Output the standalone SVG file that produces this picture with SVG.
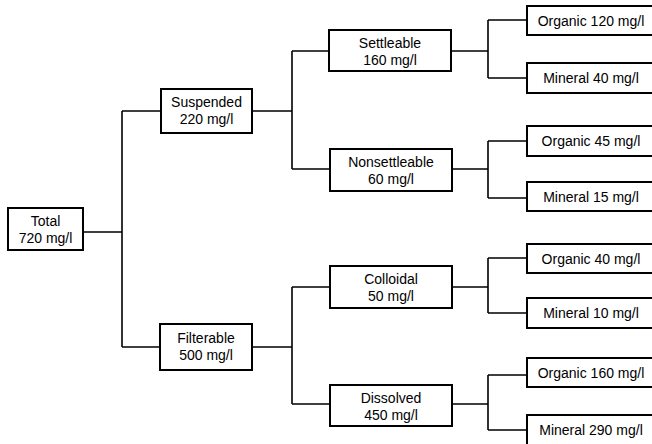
<svg xmlns="http://www.w3.org/2000/svg" width="652" height="444" viewBox="0 0 652 444">
<style>
.box{fill:#fff;stroke:#000;stroke-width:2}
.ln{fill:none;stroke:#000;stroke-width:1.6}
text{font-family:"Liberation Sans",Arial,sans-serif;font-size:14px;fill:#000;text-anchor:middle}
</style>
<rect width="652" height="444" fill="#fff"/>
<g id="connectors">
<path class="ln" d="M83 232H122M122 111V347M122 111H161M122 347H160"/>
<path class="ln" d="M252 111H292M292 51V169M292 51H329M292 169H330"/>
<path class="ln" d="M252 347H292M292 287V404M292 287H330M292 404H330"/>
<path class="ln" d="M451 51H488M488 20V78M488 20H527M488 78H527"/>
<path class="ln" d="M452 169H488M488 141V198M488 141H527M488 198H527"/>
<path class="ln" d="M452 287H488M488 258V313M488 258H527M488 313H527"/>
<path class="ln" d="M452 404H488M488 375V430M488 375H527M488 430H527"/>
</g>
<g id="total"><rect class="box" x="8" y="208" width="75" height="42"/><text x="45.5" y="226">Total</text><text x="45.5" y="243">720 mg/l</text></g>
<g id="suspended"><rect class="box" x="161" y="89" width="91" height="44"/><text x="206.5" y="107">Suspended</text><text x="206.5" y="124">220 mg/l</text></g>
<g id="filterable"><rect class="box" x="160" y="324" width="92" height="46"/><text x="206" y="343">Filterable</text><text x="206" y="360">500 mg/l</text></g>
<g id="settleable"><rect class="box" x="329" y="30" width="122" height="41"/><text x="390" y="48">Settleable</text><text x="390" y="65">160 mg/l</text></g>
<g id="nonsettleable"><rect class="box" x="330" y="149" width="122" height="42"/><text x="391" y="167">Nonsettleable</text><text x="391" y="184">60 mg/l</text></g>
<g id="colloidal"><rect class="box" x="330" y="266" width="122" height="42"/><text x="391" y="284">Colloidal</text><text x="391" y="301">50 mg/l</text></g>
<g id="dissolved"><rect class="box" x="330" y="385" width="122" height="41"/><text x="391" y="403">Dissolved</text><text x="391" y="420">450 mg/l</text></g>
<g id="org120"><rect class="box" x="527" y="6" width="130" height="29"/><text x="591" y="26">Organic 120 mg/l</text></g>
<g id="min40"><rect class="box" x="527" y="63" width="130" height="30"/><text x="591" y="83">Mineral 40 mg/l</text></g>
<g id="org45"><rect class="box" x="527" y="126" width="130" height="30"/><text x="591" y="146">Organic 45 mg/l</text></g>
<g id="min15"><rect class="box" x="527" y="182" width="130" height="29"/><text x="591" y="202">Mineral 15 mg/l</text></g>
<g id="org40"><rect class="box" x="527" y="244" width="130" height="29"/><text x="591" y="264">Organic 40 mg/l</text></g>
<g id="min10"><rect class="box" x="527" y="298" width="130" height="30"/><text x="591" y="318">Mineral 10 mg/l</text></g>
<g id="org160"><rect class="box" x="527" y="358" width="130" height="29"/><text x="591" y="378">Organic 160 mg/l</text></g>
<g id="min290"><rect class="box" x="527" y="415" width="130" height="32"/><text x="591" y="435">Mineral 290 mg/l</text></g>
</svg>
